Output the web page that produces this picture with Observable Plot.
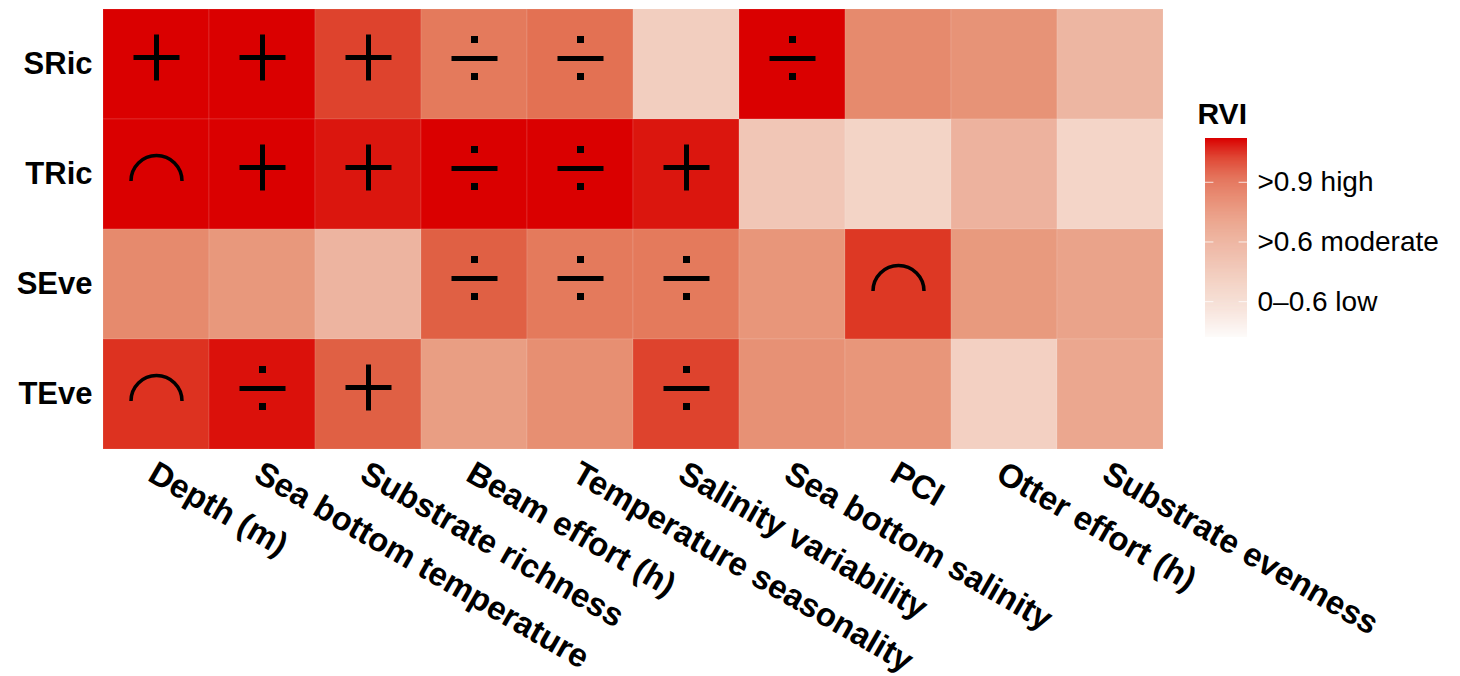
<!DOCTYPE html>
<html>
<head>
<meta charset="utf-8">
<script src="https://cdn.jsdelivr.net/npm/d3@7"></script>
<script src="https://cdn.jsdelivr.net/npm/@observablehq/plot@0.6"></script>
<style>
  html, body { margin: 0; padding: 0; background: #fff; }
  #wrap { position: relative; width: 1460px; height: 676px; }
  #legend { position: absolute; left: 1190px; top: 0px; }
  svg { overflow: visible; }
</style>
</head>
<body>
<div id="wrap"><div id="main"></div><div id="legend"></div></div>
<script>
// ---- data ----
const predictors = ["Depth (m)", "Sea bottom temperature", "Substrate richness", "Beam effort (h)",
  "Temperature seasonality", "Salinity variability", "Sea bottom salinity", "PCI",
  "Otter effort (h)", "Substrate evenness"];
const responses = ["SRic", "TRic", "SEve", "TEve"];

// RVI (colour position, 0 = white, 1 = full red)
const rviSRic = [1.00, 1.00, 0.87, 0.68, 0.72, 0.27, 1.00, 0.61, 0.57, 0.39];
const rviTRic = [1.00, 1.00, 0.96, 1.00, 1.00, 0.96, 0.31, 0.24, 0.41, 0.23];
const rviSEve = [0.61, 0.55, 0.40, 0.79, 0.68, 0.68, 0.56, 0.90, 0.54, 0.49];
const rviTEve = [0.91, 0.97, 0.79, 0.52, 0.59, 0.87, 0.58, 0.56, 0.26, 0.47];

// effect shape: "+" positive, "÷" non-linear, "∩" hump-shaped, "" none
const effSRic = ["+", "+", "+", "÷", "÷", "", "÷", "", "", ""];
const effTRic = ["∩", "+", "+", "÷", "÷", "+", "", "", "", ""];
const effSEve = ["", "", "", "÷", "÷", "÷", "", "∩", "", ""];
const effTEve = ["∩", "÷", "+", "", "", "÷", "", "", "", ""];

const legendTicks = [0.18, 0.48, 0.78];
const legendLabels = ["0\u20130.6 low", ">0.6 moderate", ">0.9 high"];

// palette stops (position, colour)
const paletteStops = [0, 0.25, 0.4, 0.55, 0.68, 0.8, 0.9, 1];
const paletteColors = ["#fdfbfa", "#f3d2c4", "#edb4a0", "#e8987c", "#e47a5c", "#e05e42", "#dd3824", "#da0000"];

// ---- build table ----
const rviRows = [rviSRic, rviTRic, rviSEve, rviTEve];
const effRows = [effSRic, effTRic, effSEve, effTEve];
const cells = [];
responses.forEach((r, i) => predictors.forEach((p, j) => {
  cells.push({response: r, predictor: p, rvi: rviRows[i][j], effect: effRows[i][j]});
}));

const FONT = "'Liberation Sans', Arial, Helvetica, sans-serif";
const colorScale = {type: "linear", domain: paletteStops, range: paletteColors, interpolate: "rgb", clamp: true};

// custom glyphs drawn around the dot position
const plusSym = {draw(c) {
  c.moveTo(-23, -7); c.lineTo(23, -7);
  c.moveTo(0, -30); c.lineTo(0, 16);
}};
const divSym = {draw(c) {
  c.moveTo(-23, -6); c.lineTo(23, -6);
  c.rect(-1, -26, 2, 2);
  c.rect(-1, 11, 2, 2);
}};
const arcSym = {draw(c) {
  c.moveTo(-25.5, 6.5);
  c.arc(0, 6.5, 25.5, Math.PI, 2 * Math.PI);
}};

const main = Plot.plot({
  width: 1460, height: 676,
  marginLeft: 102, marginRight: 296, marginTop: 8, marginBottom: 226,
  style: {fontFamily: FONT, background: "white"},
  x: {domain: predictors, padding: 0, axis: null},
  y: {domain: responses, padding: 0, axis: null},
  color: colorScale,
  marks: [
    Plot.cell(cells, {x: "predictor", y: "response", fill: "rvi", inset: 0,
      stroke: "white", strokeOpacity: 0.12, strokeWidth: 1}),
    Plot.dot(cells.filter(d => d.effect === "+"), {x: "predictor", y: "response", symbol: plusSym,
      fill: "black", stroke: "black", strokeWidth: 5}),
    Plot.dot(cells.filter(d => d.effect === "÷"), {x: "predictor", y: "response", symbol: divSym,
      fill: "black", stroke: "black", strokeWidth: 5}),
    Plot.dot(cells.filter(d => d.effect === "∩"), {x: "predictor", y: "response", symbol: arcSym,
      fill: "none", stroke: "black", strokeWidth: 3.5}),
    Plot.axisY({anchor: "left", tickSize: 0, tickPadding: 10, fontSize: 31, fontWeight: "bold",
      fill: "black", label: null}),
    Plot.axisX({anchor: "bottom", tickSize: 0, tickPadding: 20, tickRotate: 30, dx: -5,
      fontSize: 33, fontWeight: "bold", fill: "black", label: null})
  ]
});
document.getElementById("main").appendChild(main);

// ---- legend ----
const ramp = d3.range(0, 1, 0.005);
const legend = Plot.plot({
  width: 270, height: 360,
  marginLeft: 15, marginRight: 213, marginTop: 138, marginBottom: 23,
  style: {fontFamily: FONT, background: "transparent"},
  x: {domain: [0, 1], axis: null},
  y: {domain: [0, 1], axis: null},
  color: colorScale,
  marks: [
    Plot.rect(ramp, {x1: 0, x2: 1, y1: d => d, y2: d => Math.min(1, d + 0.0055), fill: d => d + 0.0025}),
    Plot.ruleY(legendTicks, {x1: 0, x2: 0.2, stroke: "white", strokeOpacity: 0.8, strokeWidth: 1}),
    Plot.ruleY(legendTicks, {x1: 0.8, x2: 1, stroke: "white", strokeOpacity: 0.8, strokeWidth: 1}),
    Plot.axisY({anchor: "right", ticks: legendTicks, tickSize: 0, tickPadding: 10, fontSize: 28,
      fill: "black", label: null, tickFormat: d => legendLabels[legendTicks.indexOf(d)]}),
    Plot.text(["RVI"], {frameAnchor: "top-left", textAnchor: "start", lineAnchor: "bottom",
      dx: -8, dy: -15, fontSize: 30, fontWeight: "bold", fill: "black"})
  ]
});
document.getElementById("legend").appendChild(legend);
</script>
</body>
</html>
